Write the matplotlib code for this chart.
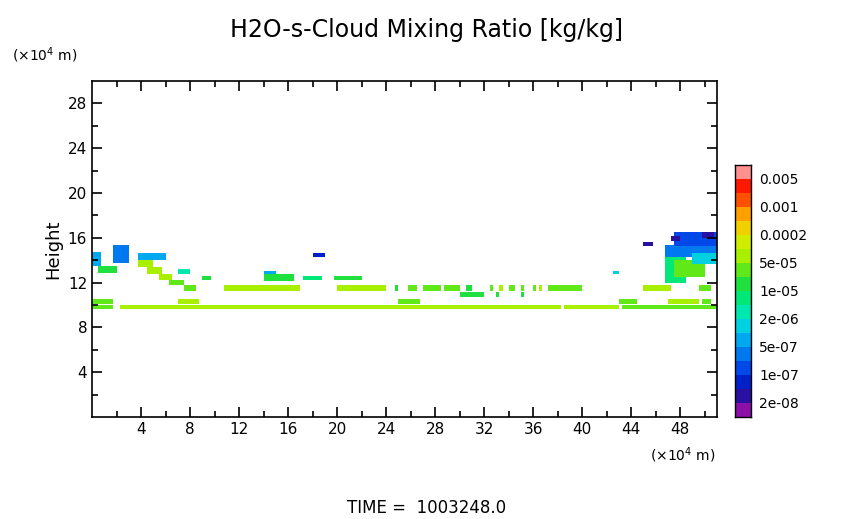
import numpy as np
import matplotlib
import matplotlib.pyplot as plt
from matplotlib.colors import ListedColormap, BoundaryNorm

matplotlib.use('Agg')

# colour levels [kg/kg]
levels = [1e-8, 2e-8, 5e-8, 1e-7, 2e-7, 5e-7, 1e-6, 2e-6, 5e-6, 1e-5,
          2e-5, 5e-5, 1e-4, 2e-4, 5e-4, 1e-3, 2e-3, 5e-3, 1e-2]
level_labels = ["2e-08", "1e-07", "5e-07", "2e-06", "1e-05", "5e-05",
                "0.0002", "0.001", "0.005"]
label_levels = [2e-8, 1e-7, 5e-7, 2e-6, 1e-5, 5e-5, 2e-4, 1e-3, 5e-3]
colors = ['#8a10a8', '#2a10a0', '#0020c8', '#0048e8', '#0078f0', '#00a8f0',
          '#00d0e0', '#00e8b0', '#00e878', '#20e040', '#60e818', '#a8f000',
          '#d0ec00', '#f0d000', '#ffa000', '#ff5000', '#ff1800', '#ff9090']

# cloud patches: x range, height range (x10^4 m), mixing ratio
seg_x0 = [0.0, 2.2, 38.5, 43.2,
          0.0, 7.0, 25.1, 43.0, 47.0, 49.7,
          7.5, 10.8, 20.1, 24.7, 25.8, 27.0, 28.8, 30.4, 32.5, 33.3, 34.1, 35.0,
          35.9, 36.5, 37.3, 44.9, 49.5,
          29.9, 32.9, 35.0,
          9.0, 17.3, 19.8,
          14.0, 14.0,
          3.8, 3.8, 4.6, 5.4, 6.2,
          1.8, 17.9, 0.0, 0.5, 7.1,
          46.8, 47.5, 46.8, 47.5, 49.0,
          45.0, 47.3, 49.7, 42.5]
seg_x1 = [1.8, 38.2, 42.9, 51.0,
          1.8, 8.8, 26.7, 44.5, 49.5, 50.5,
          8.5, 16.9, 24.1, 25.1, 26.4, 28.5, 30.0, 31.0, 32.8, 33.6, 34.4, 35.3,
          36.2, 36.8, 40.0, 47.3, 50.5,
          32.1, 33.3, 35.3,
          9.8, 18.8, 21.9,
          16.4, 15.0,
          6.0, 5.0, 5.8, 6.6, 7.6,
          3.0, 19.0, 0.66, 2.0, 8.0,
          51.0, 51.0, 48.5, 50.0, 51.0,
          45.8, 48.0, 50.8, 43.0]
seg_y0 = [9.67, 9.67, 9.67, 9.67,
          10.1, 10.1, 10.1, 10.1, 10.1, 10.1,
          11.3, 11.3, 11.3, 11.3, 11.3, 11.3, 11.3, 11.3, 11.3, 11.3, 11.3, 11.3,
          11.3, 11.3, 11.3, 11.3, 11.3,
          10.8, 10.8, 10.8,
          12.3, 12.3, 12.3,
          12.1, 12.7,
          14.0, 13.4, 12.8, 12.2, 11.8,
          13.8, 14.3, 13.5, 12.9, 12.7,
          14.2, 15.2, 12.0, 12.5, 13.6,
          15.2, 15.7, 16.0, 12.7]
seg_y1 = [10.0, 10.0, 10.0, 10.0,
          10.55, 10.55, 10.55, 10.55, 10.55, 10.55,
          11.7, 11.7, 11.7, 11.7, 11.7, 11.7, 11.7, 11.7, 11.7, 11.7, 11.7, 11.7,
          11.7, 11.7, 11.7, 11.7, 11.7,
          11.1, 11.1, 11.1,
          12.6, 12.6, 12.6,
          12.7, 13.0,
          14.65, 14.0, 13.4, 12.8, 12.3,
          15.4, 14.65, 14.8, 13.5, 13.2,
          15.4, 16.45, 14.3, 14.0, 14.6,
          15.6, 16.1, 16.45, 13.0]
seg_val = [3e-5, 6e-5, 5.5e-5, 3e-5,
           3e-5, 6e-5, 4e-5, 3e-5, 6e-5, 4e-5,
           4e-5, 5.5e-5, 6e-5, 1.5e-5, 3e-5, 4e-5, 3e-5, 1.5e-5, 4e-5, 6e-5, 3e-5, 4e-5,
           3e-5, 6e-5, 3e-5, 6e-5, 4e-5,
           1.5e-5, 1.5e-5, 1.5e-5,
           1.5e-5, 8e-6, 1.5e-5,
           1.2e-5, 8e-7,
           5e-7, 6e-5, 8e-5, 6e-5, 3e-5,
           2e-7, 5e-8, 8e-7, 1.5e-5, 3e-6,
           3e-7, 1.5e-7, 8e-6, 3e-5, 1e-6,
           3e-8, 3e-8, 3e-8, 1e-6]

nx, ny = 204, 240
xg = np.linspace(0, 51, nx + 1)
yg = np.linspace(0, 30, ny + 1)
xc = 0.5 * (xg[1:] + xg[:-1])
yc = 0.5 * (yg[1:] + yg[:-1])
field = np.full((ny, nx), np.nan)
for x0, x1, y0, y1, v in zip(seg_x0, seg_x1, seg_y0, seg_y1, seg_val):
    mx = (xc >= x0) & (xc <= x1)
    my = (yc >= y0) & (yc <= y1)
    field[np.ix_(my, mx)] = v

cmap = ListedColormap(colors)
norm = BoundaryNorm(levels, cmap.N)

fig = plt.figure(figsize=(8.54, 5.19), dpi=100)
ax = fig.add_axes([92 / 854, 102 / 519, 625 / 854, 336 / 519])
ax.pcolormesh(xg, yg, np.ma.masked_invalid(field), cmap=cmap, norm=norm)
ax.set_xlim(0, 51)
ax.set_ylim(0, 30)
ax.set_xticks(range(4, 51, 4))
ax.set_xticks(range(2, 51, 2), minor=True)
ax.set_yticks(range(4, 30, 4))
ax.set_yticks(range(2, 30, 2), minor=True)
ax.tick_params(which='both', direction='in', top=True, right=True,
               labelsize=11, width=1.2)
ax.tick_params(which='major', length=7)
ax.tick_params(which='minor', length=4)
for s in ax.spines.values():
    s.set_linewidth(1.2)
ax.set_ylabel("Height", fontsize=13)

fig.text(0.5, 1 - 30 / 519, "H2O-s-Cloud Mixing Ratio [kg/kg]", ha='center',
         va='center', fontsize=17)
fig.text(12 / 854, 1 - 55 / 519, "(×10$^4$ m)", fontsize=10, va='center')
fig.text(650 / 854, 1 - 455 / 519, "(×10$^4$ m)", fontsize=10, va='center')
fig.text(427 / 854, 1 - 508 / 519, "TIME =  1003248.0", ha='center',
         va='center', fontsize=12)

# colour bar as stacked boxes
cax = fig.add_axes([735 / 854, 102 / 519, 16 / 854, 252 / 519])
for i, c in enumerate(colors):
    cax.add_patch(plt.Rectangle((0, i), 1, 1, facecolor=c, edgecolor='none'))
cax.set_xlim(0, 1)
cax.set_ylim(0, len(colors))
cax.set_xticks([])
cax.yaxis.tick_right()
cax.set_yticks([levels.index(l) for l in label_levels])
cax.set_yticklabels(level_labels)
cax.tick_params(axis='y', length=0, labelsize=10, pad=6)
for s in cax.spines.values():
    s.set_linewidth(1.0)

fig.savefig("out.png", dpi=100)
